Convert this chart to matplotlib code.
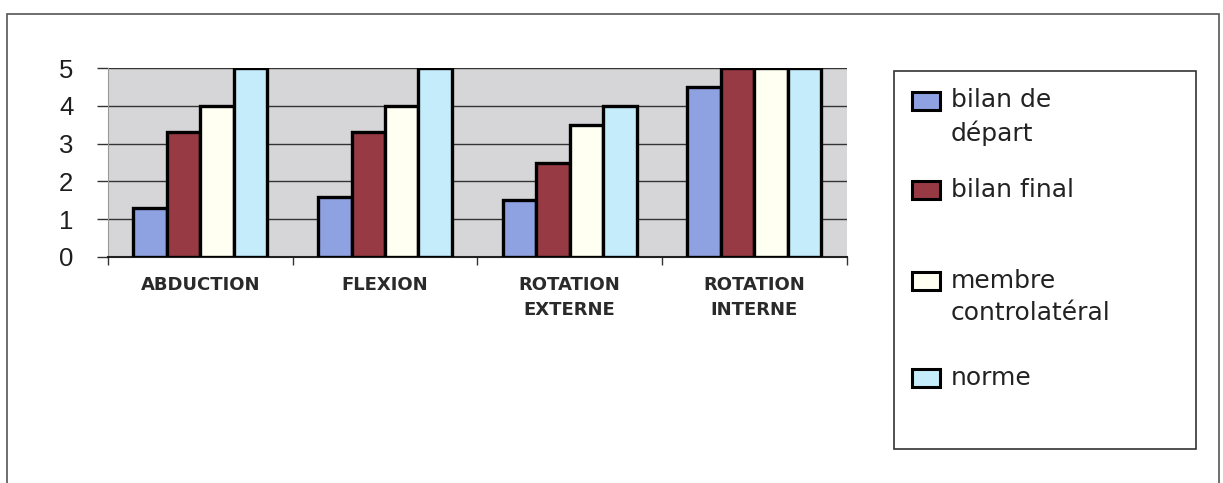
import numpy as np
import matplotlib.pyplot as plt
from matplotlib.patches import Rectangle

plt.rcParams['font.family'] = ['Liberation Sans', 'DejaVu Sans']

# données
categories = ["ABDUCTION", "FLEXION", "ROTATION\nEXTERNE", "ROTATION\nINTERNE"]
series_names = ["bilan de\ndépart", "bilan final", "membre\ncontrolatéral", "norme"]
bilan_depart = [1.3, 1.6, 1.5, 4.5]
bilan_final = [3.3, 3.3, 2.5, 5.0]
membre_contro = [4.0, 4.0, 3.5, 5.0]
norme = [5.0, 5.0, 4.0, 5.0]
y_ticks = [0, 1, 2, 3, 4, 5]

colors = ["#8ea2e2", "#973a44", "#fffff2", "#c4ecfb"]

fig = plt.figure(figsize=(12.23, 4.83), dpi=100)
ax = fig.add_axes([0.0883, 0.468, 0.604, 0.391])
ax.set_facecolor("#d6d6d8")

x = np.arange(len(categories))
w = 0.181
all_series = [bilan_depart, bilan_final, membre_contro, norme]
for i, (vals, col) in enumerate(zip(all_series, colors)):
    ax.bar(x + (i - 1.5) * w, vals, width=w, color=col,
           edgecolor="black", linewidth=2.4, zorder=3)

ax.set_xlim(-0.5, len(categories) - 0.5)
ax.set_ylim(0, 5)
ax.set_yticks(y_ticks)
ax.set_yticklabels([str(t) for t in y_ticks], fontsize=18.5, color="#1e1e1e")
ax.yaxis.grid(True, color="#333333", linewidth=1.0, zorder=1)
ax.tick_params(axis="y", length=8, width=1.0, color="#333333", pad=17)

# graduations entre les groupes, libellés au centre
ax.set_xticks(np.arange(len(categories) + 1) - 0.5)
ax.set_xticklabels([])
ax.set_xticks(x, minor=True)
ax.set_xticklabels(categories, minor=True, fontsize=13, family="DejaVu Sans",
                   fontweight="bold", color="#2a2a2a", linespacing=1.45)
ax.tick_params(axis="x", which="major", length=6, width=1.0, color="#333333")
ax.tick_params(axis="x", which="minor", length=0, pad=14)

for s in ["top", "right"]:
    ax.spines[s].set_visible(False)
ax.spines["left"].set_color("#9a9a9a")
ax.spines["bottom"].set_color("#222222")
ax.spines["bottom"].set_linewidth(1.5)

# cadre extérieur
fig.patches.append(Rectangle((0.006, -0.05), 0.991, 1.021, transform=fig.transFigure,
                             fill=False, edgecolor="#555555", linewidth=1.2))

# légende dessinée à la main
H = 483.0
W = 1223.0
fig.patches.append(Rectangle((894 / W, 1 - 449 / H), 302 / W, 378 / H,
                             transform=fig.transFigure, fill=False,
                             edgecolor="#333333", linewidth=1.2))
entry_y = [117, 190, 297, 378]
box_y = [101, 190, 281, 378]
for name, col, yc, yb in zip(series_names, colors, entry_y, box_y):
    fig.patches.append(Rectangle((912 / W, 1 - (yb + 9) / H), 28 / W, 18 / H,
                                 transform=fig.transFigure, facecolor=col,
                                 edgecolor="black", linewidth=2.2))
    fig.text(951 / W, 1 - yc / H, name, fontsize=18, va="center", ha="left",
             family="DejaVu Sans", color="#222222", linespacing=1.45)

fig.savefig("out.png", dpi=100)
